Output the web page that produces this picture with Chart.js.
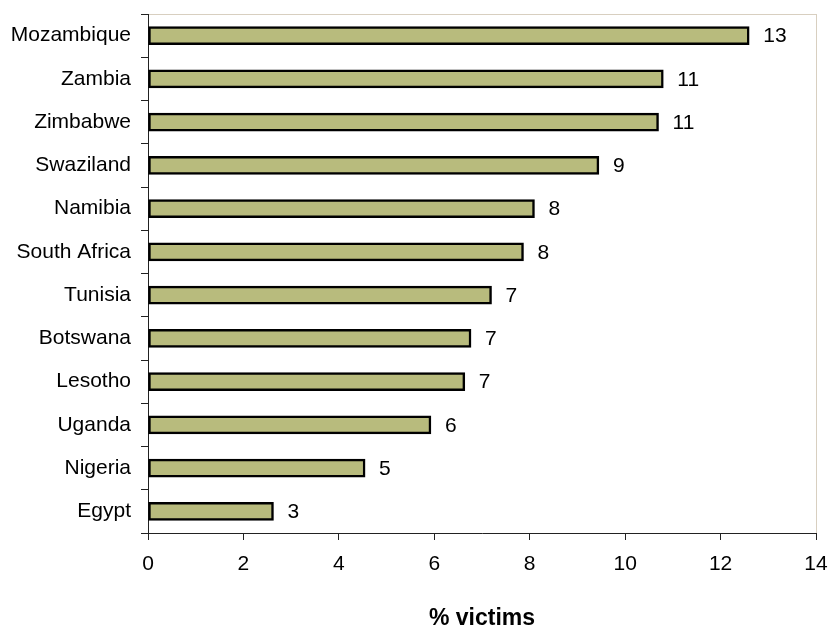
<!DOCTYPE html>
<html>
<head>
<meta charset="utf-8">
<script src="https://cdn.jsdelivr.net/npm/chart.js@4.4.0/dist/chart.umd.min.js"></script>
<style>
  html, body { margin: 0; padding: 0; background: #fff; }
  #wrap { width: 829px; height: 630px; }
</style>
</head>
<body>
<div id="wrap"><canvas id="chart" width="829" height="630"></canvas></div>
<script>
const countries = ["Mozambique", "Zambia", "Zimbabwe", "Swaziland", "Namibia", "South Africa",
  "Tunisia", "Botswana", "Lesotho", "Uganda", "Nigeria", "Egypt"];
const victims = [12.6, 10.8, 10.7, 9.45, 8.1, 7.87, 7.2, 6.77, 6.64, 5.93, 4.55, 2.63];
const xTicks = [0, 2, 4, 6, 8, 10, 12, 14];

const fontFamily = "'Liberation Sans', Arial, sans-serif";
const fontSize = 21;

// light frame round the plot area (top / right edges)
const plotFrame = {
  id: "plotFrame",
  beforeDraw(chart) {
    const { ctx, chartArea: a } = chart;
    ctx.save();
    ctx.strokeStyle = "#d8cfc0";
    ctx.lineWidth = 1;
    ctx.strokeRect(a.left + 0.5, a.top + 0.5, a.right - a.left, a.bottom - a.top);
    ctx.restore();
  },
};

// value labels after each bar
const valueLabels = {
  id: "valueLabels",
  afterDatasetsDraw(chart) {
    const { ctx } = chart;
    const meta = chart.getDatasetMeta(0);
    ctx.save();
    ctx.font = fontSize + "px " + fontFamily;
    ctx.fillStyle = "#000";
    ctx.textAlign = "left";
    ctx.textBaseline = "middle";
    meta.data.forEach((bar, i) => {
      ctx.fillText(Math.round(victims[i]).toString(), bar.x + 14, bar.y + 1);
    });
    ctx.restore();
  },
};

var ctx = document.getElementById("chart").getContext("2d");
var myChart = new Chart(ctx, {
  type: "bar",
  data: {
    labels: countries,
    datasets: [
      {
        data: victims,
        backgroundColor: "#b8bb7d",
        borderColor: "#000",
        borderWidth: 2.5,
        borderSkipped: false,
        barThickness: 18,
      },
    ],
  },
  plugins: [plotFrame, valueLabels],
  options: {
    indexAxis: "y",
    responsive: false,
    animation: false,
    layout: { padding: { top: 14, right: 13, left: 0, bottom: 0 } },
    plugins: { legend: { display: false }, tooltip: { enabled: false } },
    scales: {
      x: {
        min: 0,
        max: 14,
        afterBuildTicks: (scale) => {
          scale.ticks = xTicks.map((v) => ({ value: v }));
        },
        afterFit: (scale) => {
          scale.height = 97;
          scale.paddingLeft = 0;
          scale.paddingRight = 0;
        },
        grid: { drawOnChartArea: false, tickLength: 7, color: "#222" },
        border: { color: "#222", width: 1 },
        ticks: { color: "#000", padding: 12, font: { size: fontSize, family: fontFamily } },
        title: {
          display: true,
          text: "% victims",
          color: "#000",
          padding: { top: 4, bottom: 0 },
          font: { size: 23, weight: "bold", family: fontFamily, lineHeight: 1 },
        },
      },
      y: {
        afterFit: (scale) => {
          scale.width = 148;
          scale.paddingTop = 0;
          scale.paddingBottom = 0;
        },
        grid: { drawOnChartArea: false, tickLength: 7, color: "#222", offset: true },
        border: { color: "#222", width: 1 },
        ticks: { color: "#000", padding: 10, font: { size: fontSize, family: fontFamily } },
      },
    },
  },
});
</script>
</body>
</html>
